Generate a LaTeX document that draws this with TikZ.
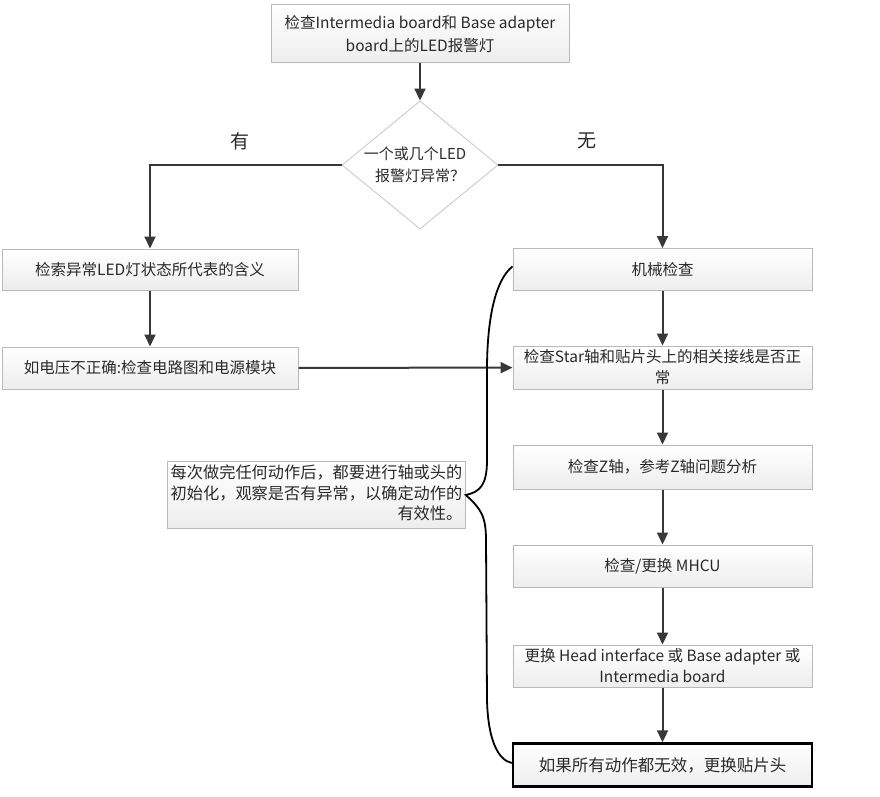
\documentclass[tikz,border=0pt]{standalone}
\usepackage{fontspec}
\setmainfont{Noto Sans CJK SC}
\usetikzlibrary{arrows.meta,shapes.geometric}
\definecolor{txt}{HTML}{2A2A2A}
\definecolor{arr}{HTML}{383838}
\tikzset{
  stepbox/.style={draw=gray!55, line width=1pt, top color=white, bottom color=gray!14,
    minimum width=299pt, minimum height=42pt, inner sep=2pt, align=center,
    font=\fontsize{15.5}{21}\selectfont, text=txt},
  flow/.style={draw=arr, line width=2pt, -{Triangle[length=12pt,width=11pt]}},
}
\begin{document}
\begin{tikzpicture}[x=1pt,y=-1pt]
\useasboundingbox (0,0) rectangle (880,797);
% top
\node[stepbox, minimum width=298pt, minimum height=58pt, font=\fontsize{15.5}{23}\selectfont] (top) at (420,34)
  {检查Intermedia board和 Base adapter\\board上的LED报警灯};
% decision
\node[diamond, draw=gray!45, line width=0.8pt, fill=white, minimum width=156pt, minimum height=86pt,
  inner sep=0pt, align=center, font=\fontsize{15}{22}\selectfont, text=txt] (dec) at (420,165)
  {\kern-10pt 一个或几个LED\\报警灯异常？};
\node[font=\fontsize{19}{19}\selectfont, text=txt] (yes) at (240,141) {有};
\node[font=\fontsize{19}{19}\selectfont, text=txt] (no) at (587,141) {无};
% left column
\node[stepbox, minimum width=296pt, minimum height=41pt] (l1) at (150,269.5) {检索异常LED灯状态所代表的含义};
\node[stepbox, minimum width=296pt, minimum height=42pt] (l2) at (150,368) {如电压不正确:检查电路图和电源模块};
% right column
\node[stepbox] (r1) at (662.5,269.5) {机械检查};
\node[stepbox, minimum height=43pt] (r2) at (662.5,367.5) {检查Star轴和贴片头上的相关接线是否正\\常};
\node[stepbox, minimum height=44pt] (r3) at (662.5,467) {检查Z轴，参考Z轴问题分析};
\node[stepbox] (r4) at (662.5,566) {检查/更换 MHCU};
\node[stepbox] (r5) at (662.5,666) {更换 Head interface 或 Base adapter 或\\Intermedia board};
\node[stepbox, draw=black, line width=2.4pt, minimum height=43pt, font=\fontsize{16.5}{20}\selectfont] (r6) at (662.5,765) {如果所有动作都无效，更换贴片头};
% note
\node[draw=gray!55, line width=1pt, top color=white, bottom color=gray!14, minimum width=297pt,
  minimum height=66pt, inner sep=3pt, text=txt, font=\fontsize{16.2}{20.5}\selectfont] (note) at (316.5,495)
  {\begin{tabular}{@{}r@{}}每次做完任何动作后，都要进行轴或头的\\初始化，观察是否有异常，以确定动作的\\有效性。\end{tabular}};
% connectors
\draw[flow] (top) -- (dec);
\draw[flow] (dec.west) -| (l1.north);
\draw[flow] (dec.east) -| (r1.north);
\draw[flow] (l1) -- (l2);
\draw[flow] (l2) -- (r2);
\draw[flow] (r1) -- (r2);
\draw[flow] (r2) -- (r3);
\draw[flow] (r3) -- (r4);
\draw[flow] (r4) -- (r5);
\draw[flow] (r5) -- (r6);
% brace
\coordinate (tip) at (note.east);
\draw[black, line width=1.8pt]
  ([yshift=3pt]r1.west) .. controls (495,280) and (487,320) .. (487,370)
  -- (487,460) .. controls (487,485) and (480,492) .. (tip)
  .. controls (480,508) and (486,515) .. (486,540)
  -- (487,700) .. controls (488,740) and (498,760) .. ([yshift=2pt]r6.west);
\end{tikzpicture}
\end{document}
